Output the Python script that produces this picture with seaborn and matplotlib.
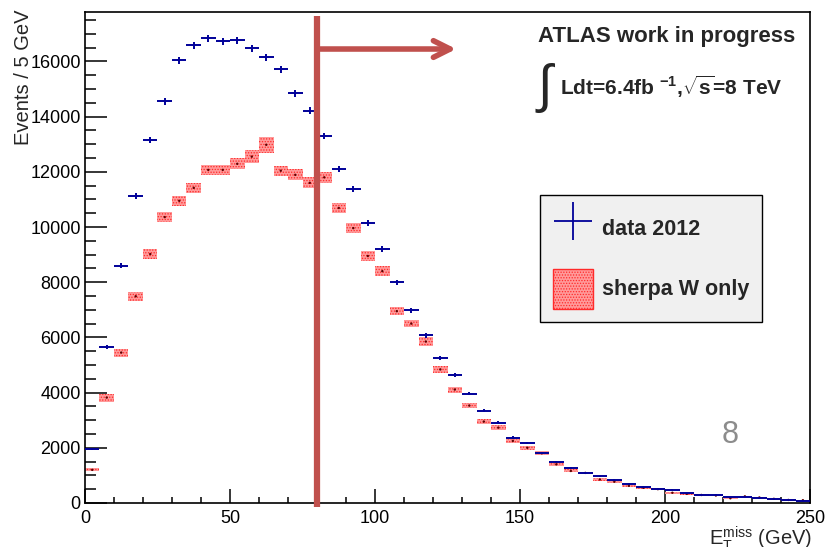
#!/usr/bin/env python3
import matplotlib
matplotlib.use("Agg")
import matplotlib.pyplot as plt
import numpy as np
import pandas as pd
import seaborn as sns
from matplotlib.lines import Line2D
from matplotlib.patches import Patch

# --------------------------------------------
# DATA (5 GeV bins from 0 to 250 GeV)
# --------------------------------------------
BIN_WIDTH = 5
MET_MIN, MET_MAX = 0, 250

data_2012 = [
    1960, 5640, 8600, 11130, 13160, 14550, 16040, 16580, 16840, 16730,
    16760, 16470, 16150, 15710, 14840, 14220, 13300, 12110, 11380, 10150,
    9200, 8000, 6980, 6070, 5270, 4650, 3960, 3350, 2900, 2360,
    2180, 1820, 1490, 1280, 1100, 960, 830, 690, 580, 500,
    480, 350, 290, 290, 200, 220, 170, 160, 120, 80,
]
data_2012_err = [
    45, 75, 93, 105, 115, 120, 127, 129, 130, 129,
    129, 128, 127, 125, 122, 119, 115, 110, 107, 101,
    96, 89, 84, 78, 73, 68, 63, 58, 54, 49,
    47, 43, 39, 36, 33, 31, 29, 26, 24, 22,
    22, 19, 17, 17, 14, 15, 13, 13, 11, 9,
]
sherpa_w = [
    1200, 3820, 5450, 7490, 9020, 10360, 10950, 11420, 12070, 12070,
    12290, 12550, 12980, 12040, 11890, 11600, 11800, 10690, 9960, 8950,
    8400, 6950, 6500, 5850, 4840, 4110, 3530, 2950, 2730, 2250,
    2000, 1800, 1400, 1160, 1090, 850, 770, 620, 550, 500,
    370, 330, 290, 270, 170, 240, 200, 150, 110, 100,
]
sherpa_w_err = [
    50, 145, 145, 170, 180, 180, 180, 180, 195, 195,
    195, 225, 290, 180, 200, 200, 200, 180, 180, 165,
    180, 150, 140, 150, 140, 110, 90, 100, 100, 85,
    75, 70, 60, 55, 50, 50, 45, 45, 40, 40,
    40, 35, 35, 35, 30, 30, 30, 30, 25, 25,
]

CUT_VALUE = 80        # vertical cut line, GeV
ARROW_END = 128       # arrow tip, GeV
ARROW_Y = 16450       # arrow height, events
Y_MAX = 17800

DATA_COLOR = "#000099"
MC_FACE = "#ff9a9a"
MC_EDGE = "#ff2a2a"
CUT_COLOR = "#c0504d"


def build_frame():
    centers = np.arange(MET_MIN, MET_MAX, BIN_WIDTH) + BIN_WIDTH / 2
    df = pd.DataFrame(
        {
            "met": centers,
            "data": data_2012,
            "data_err": data_2012_err,
            "mc": sherpa_w,
            "mc_err": sherpa_w_err,
        }
    )
    return df


def main():
    sns.set_theme(style="ticks")
    plt.rcParams["font.family"] = ["Liberation Sans", "DejaVu Sans"]
    plt.rcParams["mathtext.fontset"] = "custom"
    plt.rcParams["mathtext.rm"] = "Liberation Sans"
    plt.rcParams["mathtext.it"] = "Liberation Sans"
    plt.rcParams["mathtext.bf"] = "Liberation Sans:bold"
    plt.rcParams["hatch.linewidth"] = 0.6

    df = build_frame()

    fig = plt.figure(figsize=(8.25, 5.47), dpi=100)
    ax = fig.add_axes([0.103, 0.0805, 0.879, 0.898])

    # sherpa W only: hatched uncertainty boxes
    ax.bar(
        df["met"],
        2 * df["mc_err"],
        bottom=df["mc"] - df["mc_err"],
        width=BIN_WIDTH,
        facecolor=MC_FACE,
        edgecolor=MC_EDGE,
        hatch="......",
        linewidth=0,
        zorder=2,
    )
    sns.scatterplot(
        data=df, x="met", y="mc", ax=ax, s=3, color="#600000",
        edgecolor="none", zorder=3, legend=False,
    )

    # data 2012: crosses
    ax.errorbar(
        df["met"],
        df["data"],
        xerr=BIN_WIDTH / 2,
        yerr=df["data_err"],
        fmt="none",
        ecolor=DATA_COLOR,
        elinewidth=1.4,
        capsize=0,
        zorder=4,
    )

    ax.set_xlim(MET_MIN, MET_MAX)
    ax.set_ylim(0, Y_MAX)
    ax.set_xlabel("")
    ax.set_ylabel("")
    ax.set_xticks(np.arange(0, 251, 50))
    ax.set_xticks(np.arange(0, 251, 10), minor=True)
    ax.set_yticks(np.arange(0, 17000, 2000))
    ax.set_yticks(np.arange(0, Y_MAX, 500), minor=True)
    ax.tick_params(axis="both", which="both", direction="in", labelsize=13,
                   colors="black", width=1.1)
    ax.tick_params(axis="y", which="major", length=16, pad=3)
    ax.tick_params(axis="y", which="minor", length=8)
    ax.tick_params(axis="x", which="major", length=10, pad=5)
    ax.tick_params(axis="x", which="minor", length=4.5)
    for side in ["left", "right", "top", "bottom"]:
        ax.spines[side].set_visible(True)
        ax.spines[side].set_linewidth(1.2)
        ax.spines[side].set_color("black")

    # cut line with arrow
    ax.plot([CUT_VALUE, CUT_VALUE], [-150, 17650], color=CUT_COLOR, lw=4.5,
            solid_capstyle="butt", clip_on=False, zorder=5)
    ax.annotate(
        "",
        xy=(ARROW_END, ARROW_Y),
        xytext=(CUT_VALUE, ARROW_Y),
        arrowprops=dict(arrowstyle="->", color=CUT_COLOR, lw=4,
                        mutation_scale=30, shrinkA=0, shrinkB=0),
        zorder=5,
    )

    # labels
    ax.text(0.625, 0.950, "ATLAS work in progress", transform=ax.transAxes,
            fontsize=16, fontweight="bold", ha="left", va="center")
    ax.text(0.624, 0.845, "\u222b", transform=ax.transAxes,
            fontsize=38, ha="left", va="center", family="Liberation Sans")
    ax.text(0.655, 0.847,
            r"Ldt=6.4fb $^{\mathbf{-1}}$,$\sqrt{\mathbf{s}}$=8 TeV",
            transform=ax.transAxes, fontsize=15, fontweight="bold",
            ha="left", va="center")

    handles = [
        Line2D([], [], color=DATA_COLOR, marker="+", markersize=28,
               markeredgewidth=1.3, linestyle="none"),
        Patch(facecolor=MC_FACE, edgecolor=MC_EDGE, hatch="......",
              linewidth=1.0),
    ]
    leg = ax.legend(
        handles,
        ["data 2012", "sherpa W only"],
        loc="upper left",
        bbox_to_anchor=(0.627, 0.627),
        frameon=True,
        fancybox=False,
        prop={"weight": "bold", "size": 15.5},
        handlelength=1.9,
        handleheight=2.5,
        handletextpad=0.4,
        labelspacing=0.95,
        borderpad=0.6,
        borderaxespad=0,
    )
    leg.get_frame().set_facecolor("#f0f0f0")
    leg.get_frame().set_edgecolor("black")
    leg.get_frame().set_linewidth(1.0)
    leg.get_frame().set_alpha(1)

    fig.text(0.029, 0.982, "Events / 5 GeV", rotation=90, ha="center",
             va="top", fontsize=14.5)
    fig.text(0.984, 0.003, r"E$_{\mathrm{T}}^{\mathrm{miss}}$ (GeV)",
             ha="right", va="baseline", fontsize=14.5)
    fig.text(0.885, 0.205, "8", color="#8c8c8c", fontsize=22,
             ha="center", va="center")

    fig.savefig("out.png", dpi=100)
    plt.close(fig)


if __name__ == "__main__":
    main()
